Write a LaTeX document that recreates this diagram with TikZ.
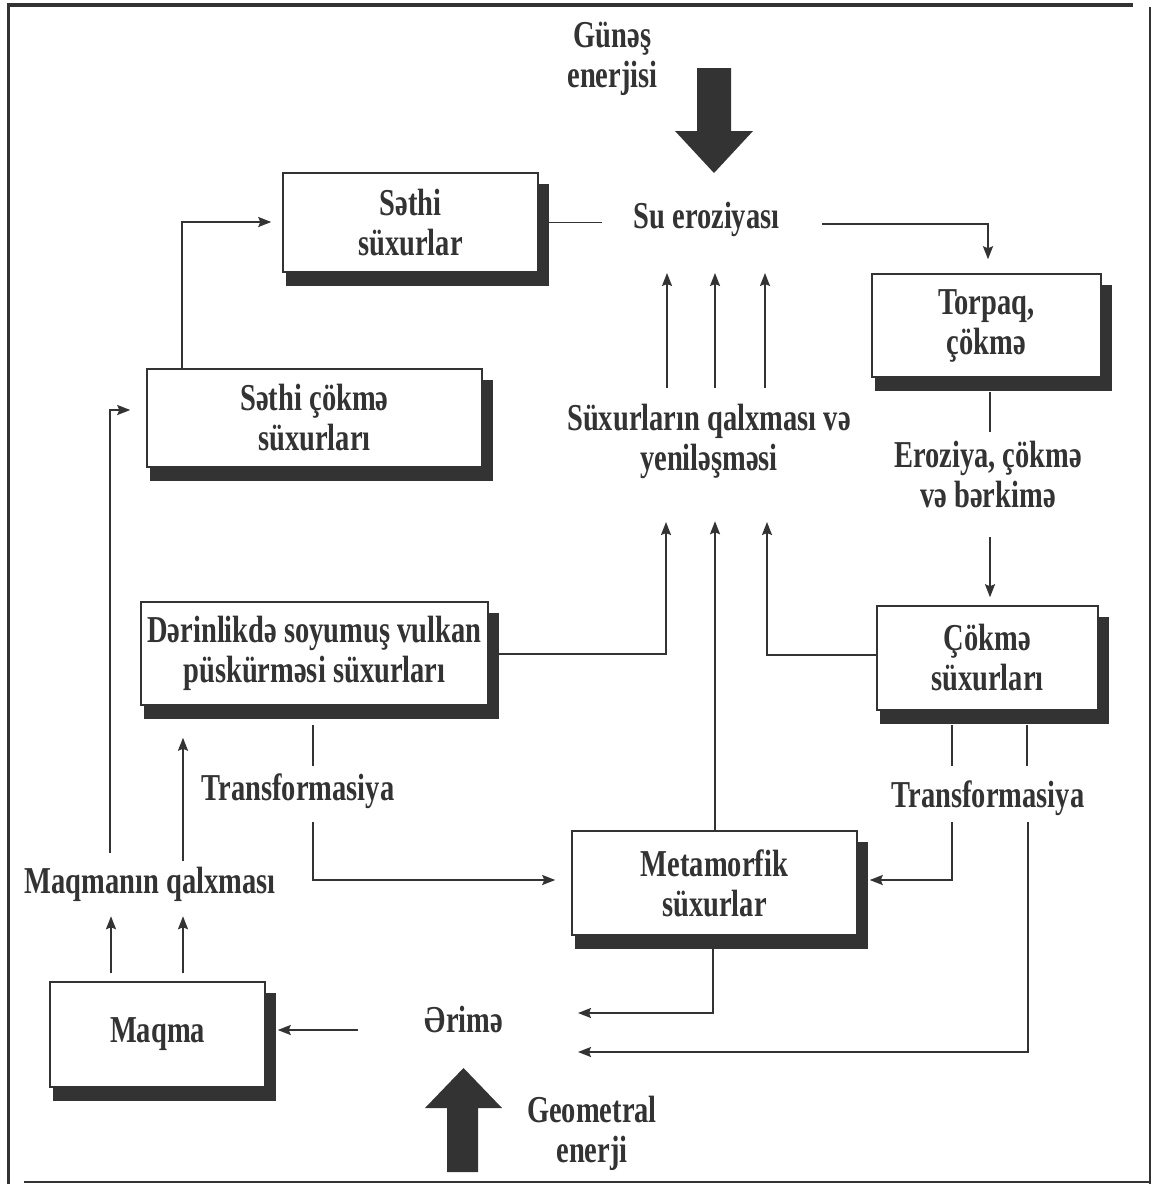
\documentclass[tikz,border=0pt]{standalone}
\usepackage{fontspec}
\setmainfont{Liberation Serif}[FakeStretch=0.75]
\usetikzlibrary{arrows.meta,calc,backgrounds}
\definecolor{ink}{HTML}{333333}
\begin{document}
\begin{tikzpicture}[x=1pt,y=-1pt,
  ln/.style={draw=ink,line width=1.8pt},
  arr/.style={ln,-{Stealth[length=13pt,width=10pt,inset=2pt]}},
  txt/.style={font=\fontsize{38}{40}\selectfont\bfseries,text=ink,inner sep=0pt,align=center},
  box/.style={txt,draw=ink,line width=1.5pt,fill=white},
]
\useasboundingbox (0,0) rectangle (1158,1184);

% frame
\draw[ink,line width=4pt] (7,5) -- (1133,5);
\draw[ink,line width=3pt] (8.5,3) -- (8.5,1184);
\draw[ink,line width=2pt] (1150,7) -- (1150,1184);
\draw[ink,line width=2pt] (24,1182) -- (1151,1182);

% boxes
\node[box,minimum width=255pt,minimum height=99pt]  (S1) at (410.5,222.5) {Səthi\\süxurlar};
\node[box,minimum width=229pt,minimum height=103pt] (T)  at (986.5,325.5) {Torpaq,\\çökmə};
\node[box,minimum width=335pt,minimum height=98pt]  (S2) at (314.5,418)   {Səthi çökmə\\süxurları};
\node[box,minimum width=347pt,minimum height=103pt] (D)  at (314.5,653.5) {Dərinlikdə soyumuş vulkan\\püskürməsi süxurları};
\node[box,minimum width=221pt,minimum height=104pt] (C)  at (987.5,658)   {Çökmə\\süxurları};
\node[box,minimum width=285pt,minimum height=104pt] (M)  at (714.5,883)   {Metamorfik\\süxurlar};
\node[box,minimum width=215pt,minimum height=105pt] (Mq) at (157.5,1034.5) {Maqma};

% drop shadows of the boxes
\begin{scope}[on background layer]
\foreach \b in {S1,T,S2,D,C,M,Mq}
  \fill[ink] ($(\b.south west)+(4,13)$) rectangle ($(\b.north east)+(10,12)$);
\end{scope}

% free labels
\node[txt] (sun) at (612.5,58.5) {Günəş\\enerjisi};
\node[txt,anchor=base] (su) at (706.5,228) {Su eroziyası};
\node[txt] (sux) at (709,441.5) {Süxurların qalxması və\\yeniləşməsi};
\node[txt] (ero) at (988,474.5) {Eroziya, çökmə\\və bərkimə};
\node[txt,anchor=base] (trL) at (298,800) {Transformasiya};
\node[txt,anchor=base] (trR) at (988,807) {Transformasiya};
\node[txt,anchor=base] (mqr) at (150,893) {Maqmanın qalxması};
\node[txt,anchor=base] (erm) at (464,1032) {Ərimə};
\node[txt] (geo) at (592,1133) {Geometral\\enerji};

% energy arrows
\fill[ink] (697,68) -- (731,68) -- (731,131) -- (753,131) -- (714,173)
  -- (675,131) -- (697,131) -- cycle;
\fill[ink] (447,1172) -- (478,1172) -- (478,1108) -- (502,1108) -- (463.5,1068)
  -- (425,1108) -- (447,1108) -- cycle;

% connector end points near the labels
\coordinate (suR) at (822,224);
\coordinate (trLb) at (313,822);
\coordinate (trRb1) at (952,822);
\coordinate (trRb2) at (1028,822);
\coordinate (ermA) at (578,1013);
\coordinate (ermB) at (578,1052);
\coordinate (ermC) at (358,1030);
\coordinate (mqrL) at (110,853);
\coordinate (mqrR) at (183,861);

% connectors
\draw[ln] ($(S1.east)+(9,0)$) -- ($(S1.east -| su.west)+(-31,0)$);
\draw[arr] (suR) -| ($(T.north)+(1.5,-14)$);
\foreach \x in {667,715,765} \draw[arr] (\x,388) -- (\x,273);
\draw[ln] ($(T.south)+(3.5,14)$) -- ($(T.south)+(3.5,54)$);
\draw[arr] ($(C.north)+(2.5,-68)$) -- ($(C.north)+(2.5,-8)$);
\draw[arr] ($(C.west)+(0,-3)$) -| (767,522);
\draw[arr] ($(D.east)+(5,0.5)$) -| (666,522);
\draw[arr] ($(M.north)+(0.5,0)$) -- ($(M.north)+(0.5,-309)$);
\draw[arr] ($(S2.north)+(-132.5,0)$) |- ($(S1.west)+(-11,-0.5)$);
\draw[arr] (mqrL) |- ($(S2.west)+(-16,-8)$);
\draw[arr] (mqrR) -- ($(D.south)+(-131.5,32)$);
\foreach \dx in {-46.5,25.5}
  \draw[arr] ($(Mq.north)+(\dx,-8)$) -- ($(Mq.north)+(\dx,-65)$);
\draw[ln] ($(D.south)+(-1.5,19)$) -- ($(D.south)+(-1.5,60)$);
\draw[arr] (trLb) |- ($(M.west)+(-16,-3)$);
\draw[ln] ($(C.south)+(-35.5,14)$) -- ($(C.south)+(-35.5,55)$);
\draw[ln] ($(C.south)+(39.5,14)$) -- ($(C.south)+(39.5,55)$);
\draw[arr] (trRb1) |- ($(M.east)+(12,-3)$);
\draw[arr] (trRb2) |- (ermB);
\draw[arr] ($(M.south)+(-1.5,13)$) |- (ermA);
\draw[arr] (ermC) -- ($(Mq.east)+(12,-4.5)$);
\end{tikzpicture}
\end{document}
